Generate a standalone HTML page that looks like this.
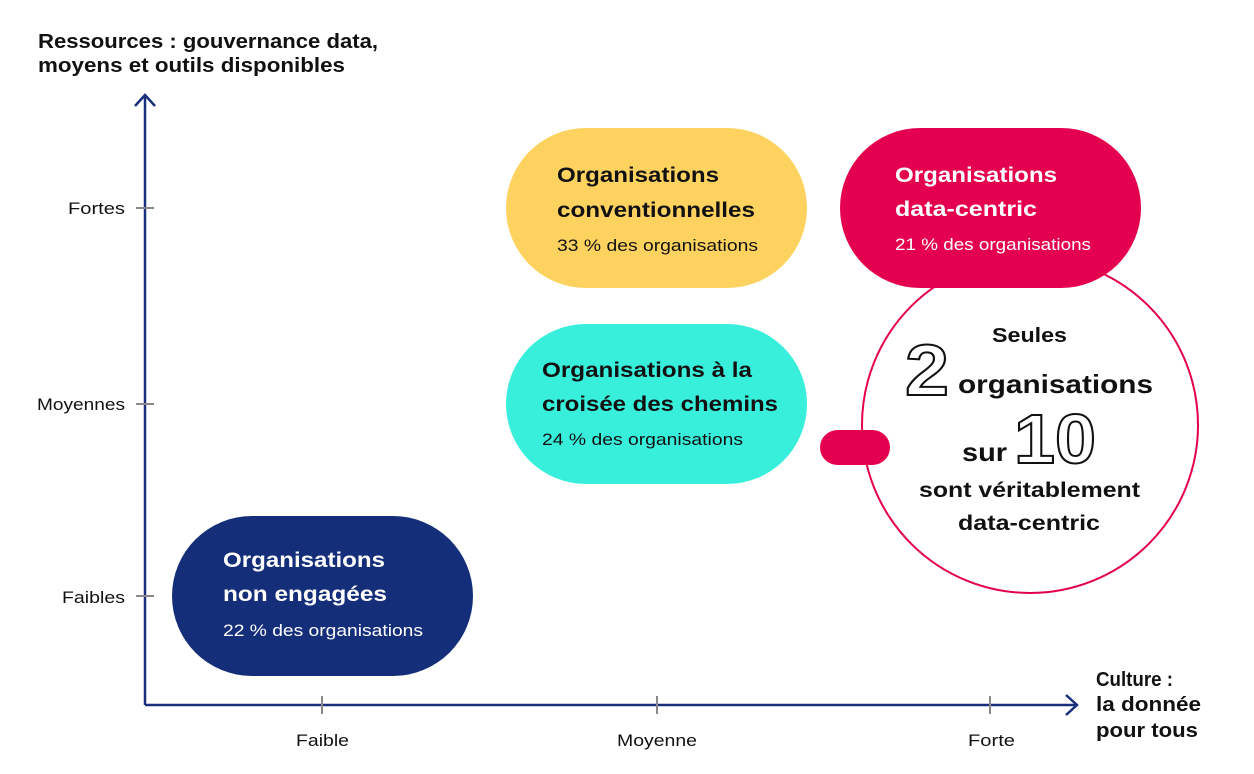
<!DOCTYPE html>
<html><head><meta charset="utf-8"><style>
body{margin:0;background:#fff}
svg{display:block}
text{font-family:"Liberation Sans",sans-serif}
</style></head><body>
<svg width="1254" height="774" viewBox="0 0 1254 774">
<g font-size="20" font-weight="bold" fill="#111" lengthAdjust="spacingAndGlyphs">
<text x="38" y="48" textLength="340" lengthAdjust="spacingAndGlyphs">Ressources : gouvernance data,</text>
<text x="38" y="72" textLength="307" lengthAdjust="spacingAndGlyphs">moyens et outils disponibles</text>
</g>
<!-- axes -->
<line x1="145" y1="96" x2="145" y2="705" stroke="#1a2f7c" stroke-width="2.5"/>
<polyline points="135,106 145,95 155,106" fill="none" stroke="#1a2f7c" stroke-width="2.5"/>
<line x1="145" y1="705" x2="1076" y2="705" stroke="#1a2f7c" stroke-width="2.5"/>
<polyline points="1066,695 1077,705 1066,715" fill="none" stroke="#1a2f7c" stroke-width="2.5"/>
<g stroke="#888" stroke-width="2">
<line x1="136" y1="208" x2="154" y2="208"/><line x1="136" y1="404" x2="154" y2="404"/><line x1="136" y1="596" x2="154" y2="596"/>
<line x1="322" y1="696" x2="322" y2="714"/><line x1="657" y1="696" x2="657" y2="714"/><line x1="990" y1="696" x2="990" y2="714"/>
</g>
<g font-size="17" fill="#111">
<text x="68" y="214" textLength="57" lengthAdjust="spacingAndGlyphs">Fortes</text>
<text x="37" y="410" textLength="88" lengthAdjust="spacingAndGlyphs">Moyennes</text>
<text x="62" y="603" textLength="63" lengthAdjust="spacingAndGlyphs">Faibles</text>
<text x="296" y="746" textLength="53" lengthAdjust="spacingAndGlyphs">Faible</text>
<text x="617" y="746" textLength="80" lengthAdjust="spacingAndGlyphs">Moyenne</text>
<text x="968" y="746" textLength="47" lengthAdjust="spacingAndGlyphs">Forte</text>
</g>
<g font-size="20" font-weight="bold" fill="#111">
<text x="1096" y="686" textLength="77" lengthAdjust="spacingAndGlyphs">Culture :</text>
<text x="1096" y="711" textLength="105" lengthAdjust="spacingAndGlyphs">la donnée</text>
<text x="1096" y="737" textLength="102" lengthAdjust="spacingAndGlyphs">pour tous</text>
</g>
<!-- circle -->
<circle cx="1030" cy="425" r="168" fill="#fff" stroke="#e4004f" stroke-width="2"/>
<rect x="820" y="430" width="70" height="35" rx="17.5" fill="#e4004f"/>
<!-- pills -->
<rect x="506" y="128" width="301" height="160" rx="80" fill="#fdd25f"/>
<rect x="840" y="128" width="301" height="160" rx="80" fill="#e4004f"/>
<rect x="506" y="324" width="301" height="160" rx="80" fill="#38efdc"/>
<rect x="172" y="516" width="301" height="160" rx="80" fill="#152e7a"/>
<g font-size="21" font-weight="bold">
<text x="557" y="182" fill="#111" textLength="162" lengthAdjust="spacingAndGlyphs">Organisations</text>
<text x="557" y="217" fill="#111" textLength="198" lengthAdjust="spacingAndGlyphs">conventionnelles</text>
<text x="895" y="182" fill="#fff" textLength="162" lengthAdjust="spacingAndGlyphs">Organisations</text>
<text x="895" y="216" fill="#fff" textLength="142" lengthAdjust="spacingAndGlyphs">data-centric</text>
<text x="542" y="377" fill="#111" textLength="210" lengthAdjust="spacingAndGlyphs">Organisations à la</text>
<text x="542" y="411" fill="#111" textLength="236" lengthAdjust="spacingAndGlyphs">croisée des chemins</text>
<text x="223" y="567" fill="#fff" textLength="162" lengthAdjust="spacingAndGlyphs">Organisations</text>
<text x="223" y="601" fill="#fff" textLength="164" lengthAdjust="spacingAndGlyphs">non engagées</text>
</g>
<g font-size="17">
<text x="557" y="251" fill="#111" textLength="201" lengthAdjust="spacingAndGlyphs">33 % des organisations</text>
<text x="895" y="250" fill="#fff" textLength="196" lengthAdjust="spacingAndGlyphs">21 % des organisations</text>
<text x="542" y="445" fill="#111" textLength="201" lengthAdjust="spacingAndGlyphs">24 % des organisations</text>
<text x="223" y="636" fill="#fff" textLength="200" lengthAdjust="spacingAndGlyphs">22 % des organisations</text>
</g>
<g font-weight="bold" fill="#111">
<text x="992" y="342" font-size="20" textLength="75" lengthAdjust="spacingAndGlyphs">Seules</text>
<text x="958" y="393" font-size="26" textLength="195" lengthAdjust="spacingAndGlyphs">organisations</text>
<text x="962" y="461" font-size="26" textLength="45" lengthAdjust="spacingAndGlyphs">sur</text>
<text x="919" y="497" font-size="21" textLength="221" lengthAdjust="spacingAndGlyphs">sont véritablement</text>
<text x="958" y="530" font-size="21" textLength="142" lengthAdjust="spacingAndGlyphs">data-centric</text>
</g>
<text x="905" y="395" font-size="72" font-weight="bold" fill="#fff" stroke="#111" stroke-width="2" textLength="44" lengthAdjust="spacingAndGlyphs">2</text>
<text x="1014" y="463" font-size="70" font-weight="bold" fill="#fff" stroke="#111" stroke-width="2" textLength="82" lengthAdjust="spacingAndGlyphs">10</text>
</svg>
</body></html>
